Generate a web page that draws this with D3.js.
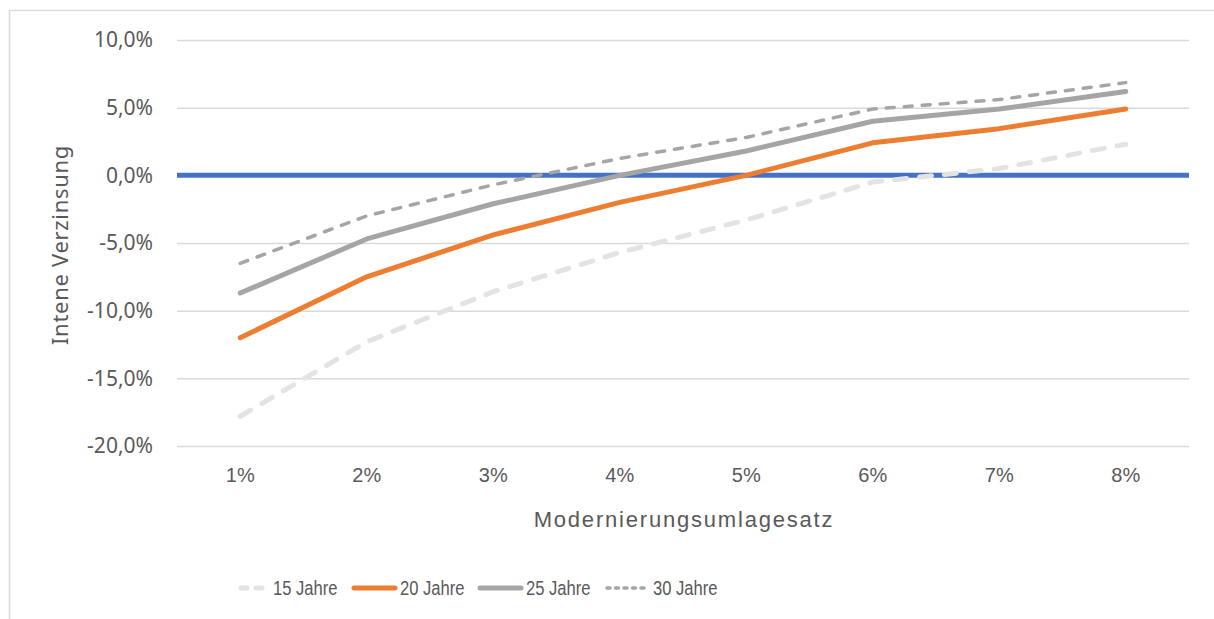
<!DOCTYPE html>
<html><head><meta charset="utf-8">
<script src="https://cdn.jsdelivr.net/npm/d3@7/dist/d3.min.js"></script>
<style>body{margin:0;background:#fff}svg{display:block}</style>
</head><body><svg id="c" width="1214" height="619"></svg>
<script>
const categories = ["1%","2%","3%","4%","5%","6%","7%","8%"];
const seriesNames = ["15 Jahre","20 Jahre","25 Jahre","30 Jahre"];
const j15 = [-17.8,-12.3,-8.6,-5.7,-3.3,-0.5,0.5,2.3];
const j20 = [-12.0,-7.5,-4.4,-2.0,0.0,2.4,3.45,4.9];
const j25 = [-8.7,-4.7,-2.1,0.0,1.8,4.0,4.9,6.2];
const j30 = [-6.5,-3.0,-0.7,1.25,2.8,4.9,5.6,6.85];
const yTicks = [10,5,0,-5,-10,-15,-20];
const xTitle = "Modernierungsumlagesatz";
const yTitle = "Intene Verzinsung";

const styles = [
  {color:"#E3E3E3", width:5, dash:"12 13"},
  {color:"#ED7D31", width:5, dash:null},
  {color:"#A5A5A5", width:5, dash:null},
  {color:"#A5A5A5", width:3.5, dash:"8 10"}
];
const seriesData = [j15,j20,j25,j30];

const svg = d3.select("#c");
svg.append("rect").attr("x",9.5).attr("y",10.5).attr("width",1230).attr("height",640)
  .attr("fill","none").attr("stroke","#D9D9D9").attr("stroke-width",1.5);

const L=177,R=1189,T=40,B=446;
const x = d3.scaleBand().domain(categories).range([L,R]);
const y = d3.scaleLinear().domain([-20,10]).range([B,T]);
const fmt = v => d3.format(".1f")(v).replace(".",",").replace("−","-")+"%";

const regular = "'Liberation Sans',sans-serif";
const noto = "'Noto Sans',sans-serif";

const yAxis = svg.append("g").attr("transform",`translate(${L},0)`)
  .call(d3.axisLeft(y).tickValues(yTicks).tickSize(-(R-L)).tickFormat(fmt).tickPadding(24));
yAxis.select(".domain").remove();
yAxis.selectAll(".tick line").attr("stroke","#D9D9D9").attr("stroke-width",1.5);
yAxis.selectAll(".tick text").attr("fill","#595959").attr("font-family",noto).attr("font-size",21);

const xAxis = svg.append("g").attr("transform",`translate(0,${B})`)
  .call(d3.axisBottom(x).tickSize(0).tickPadding(22));
xAxis.select(".domain").remove();
xAxis.selectAll(".tick text").attr("fill","#595959").attr("font-family",regular).attr("font-size",20);

// zero line (horizontal axis)
svg.append("line").attr("x1",L).attr("x2",R).attr("y1",y(0)).attr("y2",y(0))
  .attr("stroke","#4472C4").attr("stroke-width",5);

const line = d3.line().x((d,i)=>x(categories[i])+x.bandwidth()/2).y(d=>y(d));
seriesData.forEach((s,k)=>{
  const p = svg.append("path").datum(s).attr("d",line).attr("fill","none")
    .attr("stroke",styles[k].color).attr("stroke-width",styles[k].width)
    .attr("stroke-linecap","round").attr("stroke-linejoin","round");
  if(styles[k].dash) p.attr("stroke-dasharray",styles[k].dash);
});

svg.append("text").attr("x",(L+R)/2+1).attr("y",527).attr("text-anchor","middle")
  .attr("fill","#595959").attr("font-family",regular).attr("font-size",22)
  .attr("letter-spacing",1.8).text(xTitle);
svg.append("text").attr("transform",`translate(68,${(T+B)/2+2}) rotate(-90)`).attr("text-anchor","middle")
  .attr("fill","#595959").attr("font-family",noto).attr("font-size",22).attr("letter-spacing",0.7).text(yTitle);

// legend
const legX = [238,351,477,604];
const leg = svg.append("g");
seriesNames.forEach((n,k)=>{
  const g = leg.append("g").attr("transform",`translate(${legX[k]},588)`);
  const ln = g.append("line").attr("x1",3).attr("x2",k==0?29:44).attr("y1",0).attr("y2",0)
    .attr("stroke",styles[k].color).attr("stroke-width",styles[k].width).attr("stroke-linecap","round");
  if(k==0) ln.attr("stroke-dasharray","6 9");
  if(k==3) ln.attr("stroke-dasharray","3 5.5");
  g.append("text").attr("transform",`translate(${k==0?35:49},7) scale(0.85,1)`).attr("fill","#595959")
    .attr("font-family",regular).attr("font-size",19.5).text(n);
});
</script></body></html>
